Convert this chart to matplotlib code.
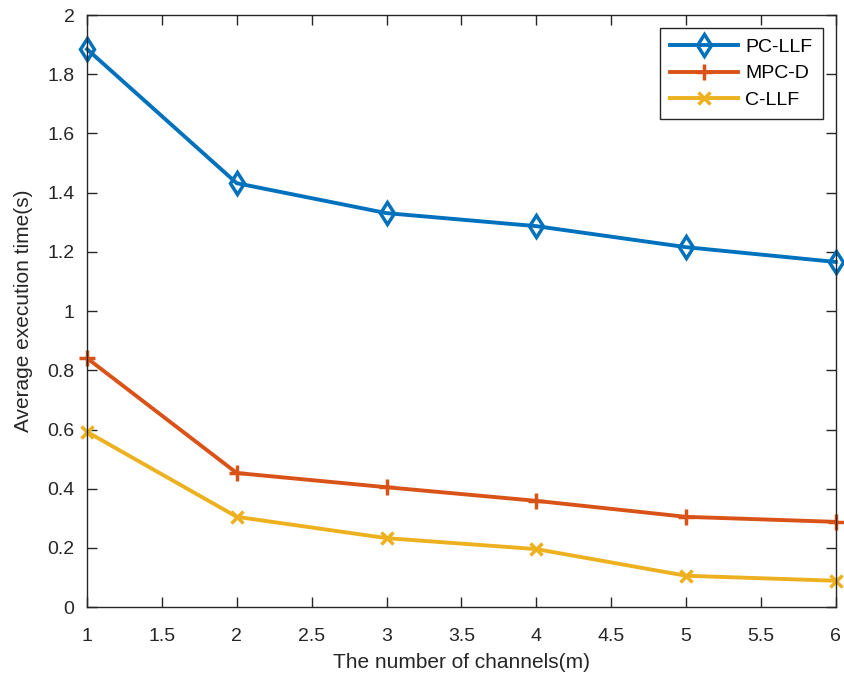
import numpy as np
import matplotlib
matplotlib.use("Agg")
import matplotlib.pyplot as plt

plt.rcParams["font.family"] = ["Liberation Sans", "DejaVu Sans"]

channels = [1, 2, 3, 4, 5, 6]
pc_llf = [1.885, 1.432, 1.331, 1.287, 1.216, 1.166]
mpc_d = [0.841, 0.453, 0.405, 0.359, 0.305, 0.288]
c_llf = [0.592, 0.305, 0.233, 0.196, 0.106, 0.089]

fig = plt.figure(figsize=(8.45, 6.86), dpi=100)
ax = fig.add_axes([0.103, 0.115, 0.886, 0.863])

ax.plot(channels, pc_llf, color="#0072BD", lw=2.8, marker="d", ms=11.5,
        mfc="none", mew=2.5, label="PC-LLF", clip_on=False)
ax.plot(channels, mpc_d, color="#D95319", lw=2.8, marker="+", ms=11,
        mew=2.5, label="MPC-D", clip_on=False)
ax.plot(channels, c_llf, color="#EDB120", lw=2.8, marker="x", ms=8,
        mew=2.5, label="C-LLF", clip_on=False)

ax.set_xlim(1, 6)
ax.set_ylim(0, 2)
ax.set_xticks(np.arange(1, 6.01, 0.5))
ax.set_xticklabels(["1", "1.5", "2", "2.5", "3", "3.5", "4", "4.5", "5", "5.5", "6"])
ax.set_yticks(np.arange(0, 2.01, 0.2))
ax.set_yticklabels(["0", "0.2", "0.4", "0.6", "0.8", "1", "1.2", "1.4", "1.6", "1.8", "2"])
ax.tick_params(direction="in", top=True, right=True, length=7, width=1,
               colors="#262626", labelsize=14, pad=9)
ax.tick_params(axis="x", pad=15)
for sp in ax.spines.values():
    sp.set_color("#262626")
    sp.set_linewidth(1)

ax.set_xlabel("The number of channels(m)", fontsize=15, color="#262626", labelpad=6)
ax.set_ylabel("Average execution time(s)", fontsize=15, color="#262626", labelpad=10)

leg = ax.legend(loc="upper right", fontsize=14, fancybox=False, framealpha=1,
                edgecolor="#262626", borderaxespad=0.65, handlelength=3.5,
                labelspacing=0.45, borderpad=0.55, handletextpad=0.35)
leg.get_frame().set_linewidth(1)

fig.savefig("out.png", dpi=100)
